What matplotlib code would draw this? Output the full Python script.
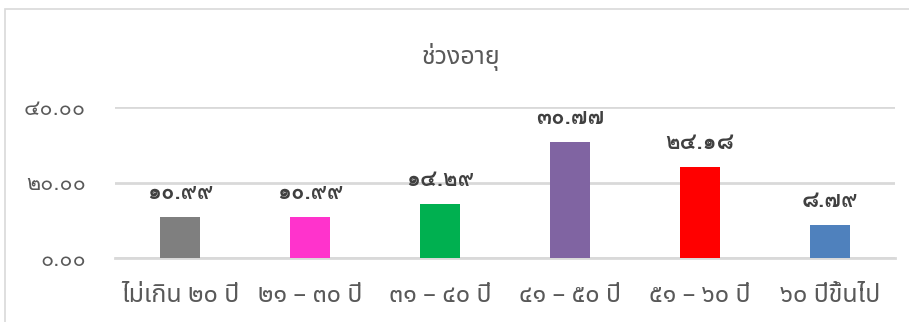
import matplotlib
matplotlib.use("Agg")
import matplotlib.pyplot as plt
from matplotlib.patches import Rectangle

# age groups and their share (%)
categories = ["ไม่เกิน ๒๐ ปี", "๒๑ – ๓๐ ปี", "๓๑ – ๔๐ ปี", "๔๑ – ๕๐ ปี", "๕๑ – ๖๐ ปี", "๖๐ ปีขึ้นไป"]
values = [10.99, 10.99, 14.29, 30.77, 24.18, 8.79]
colors = ["#7f7f7f", "#ff33cc", "#00b050", "#8064a2", "#ff0000", "#4f81bd"]
yticks = [0, 20, 40]
title = "ช่วงอายุ"

THAI_DIGITS = str.maketrans("0123456789", "๐๑๒๓๔๕๖๗๘๙")

def thai(num):
    return f"{num:.2f}".translate(THAI_DIGITS)

text_font = ["Noto Sans Thai", "DejaVu Sans"]
num_font = ["Loma", "DejaVu Sans"]
grey = "#595959"

fig = plt.figure(figsize=(9.09, 3.22), dpi=100)
# chart area frame
fig.patches.append(Rectangle((5 / 909, -0.1), 1.2, (322 - 9) / 322 + 0.1,
                             transform=fig.transFigure, fill=False,
                             edgecolor="#d9d9d9", linewidth=1.2))

ax = fig.add_axes([115 / 909, (322 - 258) / 322, 780 / 909, 151 / 322])
x = range(len(values))
ax.bar(x, values, width=0.315, color=colors, zorder=3)
ax.set_xlim(-0.5, len(values) - 0.5)
ax.set_ylim(0, 40)

for i, v in enumerate(values):
    ax.annotate(thai(v), (i, v), xytext=(0, 17), textcoords="offset points",
                ha="center", va="center", fontsize=16, fontweight="bold",
                color="#404040", family=num_font, zorder=4)

ax.set_yticks(yticks)
ax.set_yticklabels([thai(t) for t in yticks], family=num_font, fontsize=15.5, color=grey)
ax.set_xticks(list(x))
ax.set_xticklabels(categories, family=text_font, fontsize=18, color=grey)
ax.tick_params(axis="y", length=0, pad=21)
ax.tick_params(axis="x", length=0, pad=18)

ax.grid(axis="y", color="#d9d9d9", linewidth=2, zorder=0)
for s in ["top", "right", "left"]:
    ax.spines[s].set_visible(False)
ax.spines["bottom"].set_color("#d9d9d9")
ax.spines["bottom"].set_linewidth(2)

fig.text(461 / 909, (322 - 57) / 322, title, ha="center", va="center",
         family=text_font, fontsize=18, color=grey)

fig.savefig("out.png")
